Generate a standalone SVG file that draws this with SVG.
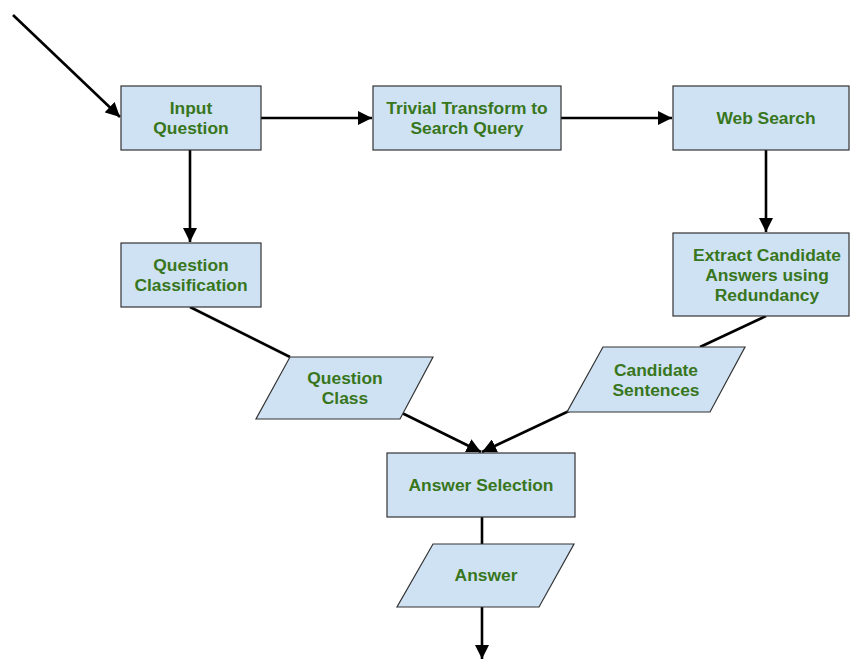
<svg xmlns="http://www.w3.org/2000/svg" width="850" height="659" viewBox="0 0 850 659">
  <style>
    .box { fill: #cfe2f3; stroke: #333; stroke-width: 1.2; }
    .lbl { font-family: "Liberation Sans", Arial, sans-serif; font-weight: bold; font-size: 17.4px; fill: #38761d; text-anchor: middle; }
    .edge { stroke: #000; stroke-width: 2.6; fill: none; }
  </style>
  <defs>
    <marker id="arrow" viewBox="0 0 10 10" refX="10" refY="5" markerWidth="5.5" markerHeight="5.5" orient="auto" markerUnits="strokeWidth">
      <path d="M0,0 L10,5 L0,10 Z" fill="#000"/>
    </marker>
  </defs>
  <rect width="850" height="659" fill="#fff"/>

  <g id="connectors">
    <line class="edge" x1="13" y1="15" x2="120" y2="117" marker-end="url(#arrow)"/>
    <line class="edge" x1="261" y1="118" x2="372" y2="118" marker-end="url(#arrow)"/>
    <line class="edge" x1="561" y1="118" x2="672" y2="118" marker-end="url(#arrow)"/>
    <line class="edge" x1="766" y1="150" x2="766" y2="232" marker-end="url(#arrow)"/>
    <line class="edge" x1="190" y1="150" x2="190" y2="242" marker-end="url(#arrow)"/>
    <line class="edge" x1="190" y1="307" x2="290" y2="357"/>
    <line class="edge" x1="402" y1="413" x2="481" y2="452" marker-end="url(#arrow)"/>
    <line class="edge" x1="766" y1="316" x2="700" y2="347"/>
    <line class="edge" x1="569" y1="411" x2="482" y2="452" marker-end="url(#arrow)"/>
    <line class="edge" x1="482" y1="517" x2="482" y2="544"/>
    <line class="edge" x1="482" y1="607" x2="482" y2="659" marker-end="url(#arrow)"/>
  </g>

  <g id="input-question">
    <rect class="box" x="121" y="86" width="140" height="64"/>
    <text class="lbl" x="191" y="114">Input</text>
    <text class="lbl" x="191" y="134">Question</text>
  </g>
  <g id="trivial-transform">
    <rect class="box" x="373" y="86" width="188" height="64"/>
    <text class="lbl" x="467" y="114">Trivial Transform to</text>
    <text class="lbl" x="467" y="134">Search Query</text>
  </g>
  <g id="web-search">
    <rect class="box" x="673" y="86" width="176" height="64"/>
    <text class="lbl" x="766" y="124">Web Search</text>
  </g>
  <g id="extract-candidate">
    <rect class="box" x="673" y="233" width="176" height="83"/>
    <text class="lbl" x="767" y="261">Extract Candidate</text>
    <text class="lbl" x="767" y="281">Answers using</text>
    <text class="lbl" x="767" y="301">Redundancy</text>
  </g>
  <g id="question-classification">
    <rect class="box" x="121" y="243" width="140" height="64"/>
    <text class="lbl" x="191" y="271">Question</text>
    <text class="lbl" x="191" y="291">Classification</text>
  </g>
  <g id="question-class">
    <polygon class="box" points="290,357 433,357 400,419 256,419"/>
    <text class="lbl" x="345" y="384">Question</text>
    <text class="lbl" x="345" y="404">Class</text>
  </g>
  <g id="candidate-sentences">
    <polygon class="box" points="603,347 745,347 710,412 567,412"/>
    <text class="lbl" x="656" y="376">Candidate</text>
    <text class="lbl" x="656" y="396">Sentences</text>
  </g>
  <g id="answer-selection">
    <rect class="box" x="387" y="453" width="188" height="64"/>
    <text class="lbl" x="481" y="491">Answer Selection</text>
  </g>
  <g id="answer">
    <polygon class="box" points="433,544 574,544 539,607 397,607"/>
    <text class="lbl" x="486" y="581">Answer</text>
  </g>
</svg>
